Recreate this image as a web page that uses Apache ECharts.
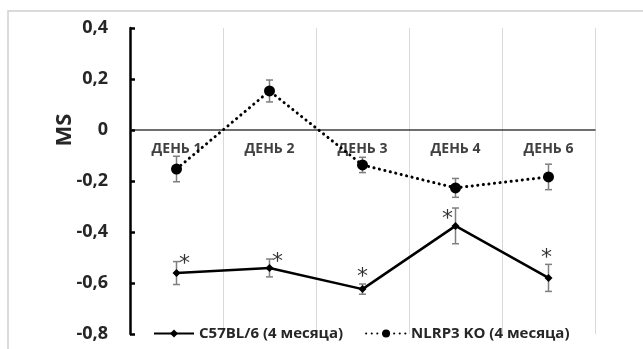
<!DOCTYPE html>
<html><head><meta charset="utf-8">
<script src="https://cdn.jsdelivr.net/npm/echarts@6/dist/echarts.min.js"></script>
<style>html,body{margin:0;padding:0;background:#fff}#c{width:643px;height:349px}</style>
</head><body><div id="c"></div>
<script>
const categories = ['ДЕНЬ 1', 'ДЕНЬ 2', 'ДЕНЬ 3', 'ДЕНЬ 4', 'ДЕНЬ 6'];
const c57Name = 'C57BL/6 (4 месяца)';
const c57Values = [-0.561, -0.541, -0.624, -0.376, -0.580];
const c57Err = [0.045, 0.035, 0.02, 0.07, 0.053];
const c57Sig = ['*', '*', '*', '*', '*'];
const koName = 'NLRP3 KO (4 месяца)';
const koValues = [-0.153, 0.153, -0.137, -0.227, -0.184];
const koErr = [0.05, 0.043, 0.03, 0.037, 0.05];
const yTicks = [-0.8, -0.6, -0.4, -0.2, 0, 0.2, 0.4];
const yName = 'MS';

const chart = echarts.init(document.getElementById('c'));
const FONT = 'Open Sans';
const GRID = { left: 130, right: 48, top: 28, bottom: 15 };
const plotH = 349 - GRID.top - GRID.bottom;
const yMin = yTicks[0], yMax = yTicks[yTicks.length - 1];
// shift the category axis up so it sits on y = 0
const zeroOffset = -plotH * (0 - yMin) / (yMax - yMin);
const zeroY = GRID.top + plotH * (yMax - 0) / (yMax - yMin);

function errSeries(vals, errs) {
  return {
    type: 'custom',
    silent: true,
    z: 1,
    data: vals.map((v, i) => [i, v - errs[i], v + errs[i]]),
    renderItem: function (params, api) {
      const lo = api.coord([api.value(0), api.value(1)]);
      const hi = api.coord([api.value(0), api.value(2)]);
      const w = 3.5;
      const st = { stroke: '#7f7f7f', lineWidth: 1.5 };
      return {
        type: 'group',
        children: [
          { type: 'line', shape: { x1: lo[0], y1: lo[1], x2: hi[0], y2: hi[1] }, style: st },
          { type: 'line', shape: { x1: lo[0] - w, y1: lo[1], x2: lo[0] + w, y2: lo[1] }, style: st },
          { type: 'line', shape: { x1: hi[0] - w, y1: hi[1], x2: hi[0] + w, y2: hi[1] }, style: st }
        ]
      };
    }
  };
}

const starOffsets = [[8, 15], [8, 15], [0, 5], [-8, 23], [-2, 6]];

chart.setOption({
  animation: false,
  backgroundColor: '#fff',
  graphic: [{
    type: 'rect', shape: { x: 8, y: 11, width: 700, height: 400 },
    style: { fill: 'none', stroke: '#d0d0d0', lineWidth: 1.5 }, z: -10, silent: true
  }, {
    type: 'text', x: 65, y: zeroY, rotation: Math.PI / 2, silent: true,
    style: {
      text: yName, font: 'bold 22px "Open Sans"', fill: '#262626',
      align: 'center', verticalAlign: 'middle'
    }
  }],
  grid: GRID,
  legend: {
    left: 148, bottom: 3,
    itemWidth: 40, itemHeight: 10, itemGap: 22,
    textStyle: { fontFamily: FONT, fontWeight: 'bold', fontSize: 15, color: '#262626' },
    data: [c57Name, koName]
  },
  xAxis: [{
    type: 'category', data: categories, boundaryGap: true,
    axisLine: { show: false },
    axisTick: { show: false },
    axisLabel: { show: false },
    splitLine: { show: true, lineStyle: { color: '#d9d9d9', width: 1 } }
  }, {
    type: 'category', data: categories, boundaryGap: true,
    position: 'bottom', offset: zeroOffset,
    axisLine: { onZero: false, show: true, lineStyle: { color: '#404040', width: 1.5 } },
    axisTick: { show: false },
    axisLabel: { fontFamily: FONT, fontWeight: 'bold', fontSize: 14, color: '#404040', margin: 12 },
    splitLine: { show: false }
  }],
  yAxis: {
    type: 'value', min: yMin, max: yMax, interval: 0.2,
    axisLine: { show: true, lineStyle: { color: '#000', width: 2.5 } },
    axisTick: { show: true, inside: true, length: 5, lineStyle: { color: '#000', width: 2.5 } },
    axisLabel: {
      fontFamily: FONT, fontWeight: 'bold', fontSize: 18, color: '#262626', margin: 22,
      formatter: v => (Math.abs(v) < 1e-9 ? '0' : v.toFixed(1).replace('.', ','))
    },
    splitLine: { show: false }
  },
  series: [
    errSeries(koValues, koErr),
    errSeries(c57Values, c57Err),
    {
      name: c57Name, type: 'line', data: c57Values, z: 3,
      symbol: 'diamond', symbolSize: 8,
      lineStyle: { color: '#000', width: 2.5 },
      itemStyle: { color: '#000' }
    },
    {
      name: koName, type: 'line', data: koValues, z: 3,
      symbol: 'circle', symbolSize: 11,
      lineStyle: { color: '#000', width: 3, type: [0.1, 5.5], cap: 'round' },
      itemStyle: { color: '#000' }
    },
    {
      type: 'scatter', silent: true, symbol: 'circle', symbolSize: 2, z: 4,
      itemStyle: { color: 'rgba(0,0,0,0)' },
      data: c57Values.map((v, i) => ({
        value: [i, v + c57Err[i]],
        label: {
          show: true, formatter: c57Sig[i], position: 'top', distance: 0,
          offset: starOffsets[i], fontSize: 22, color: '#000', fontFamily: 'DejaVu Sans'
        }
      }))
    }
  ]
});
</script></body></html>
